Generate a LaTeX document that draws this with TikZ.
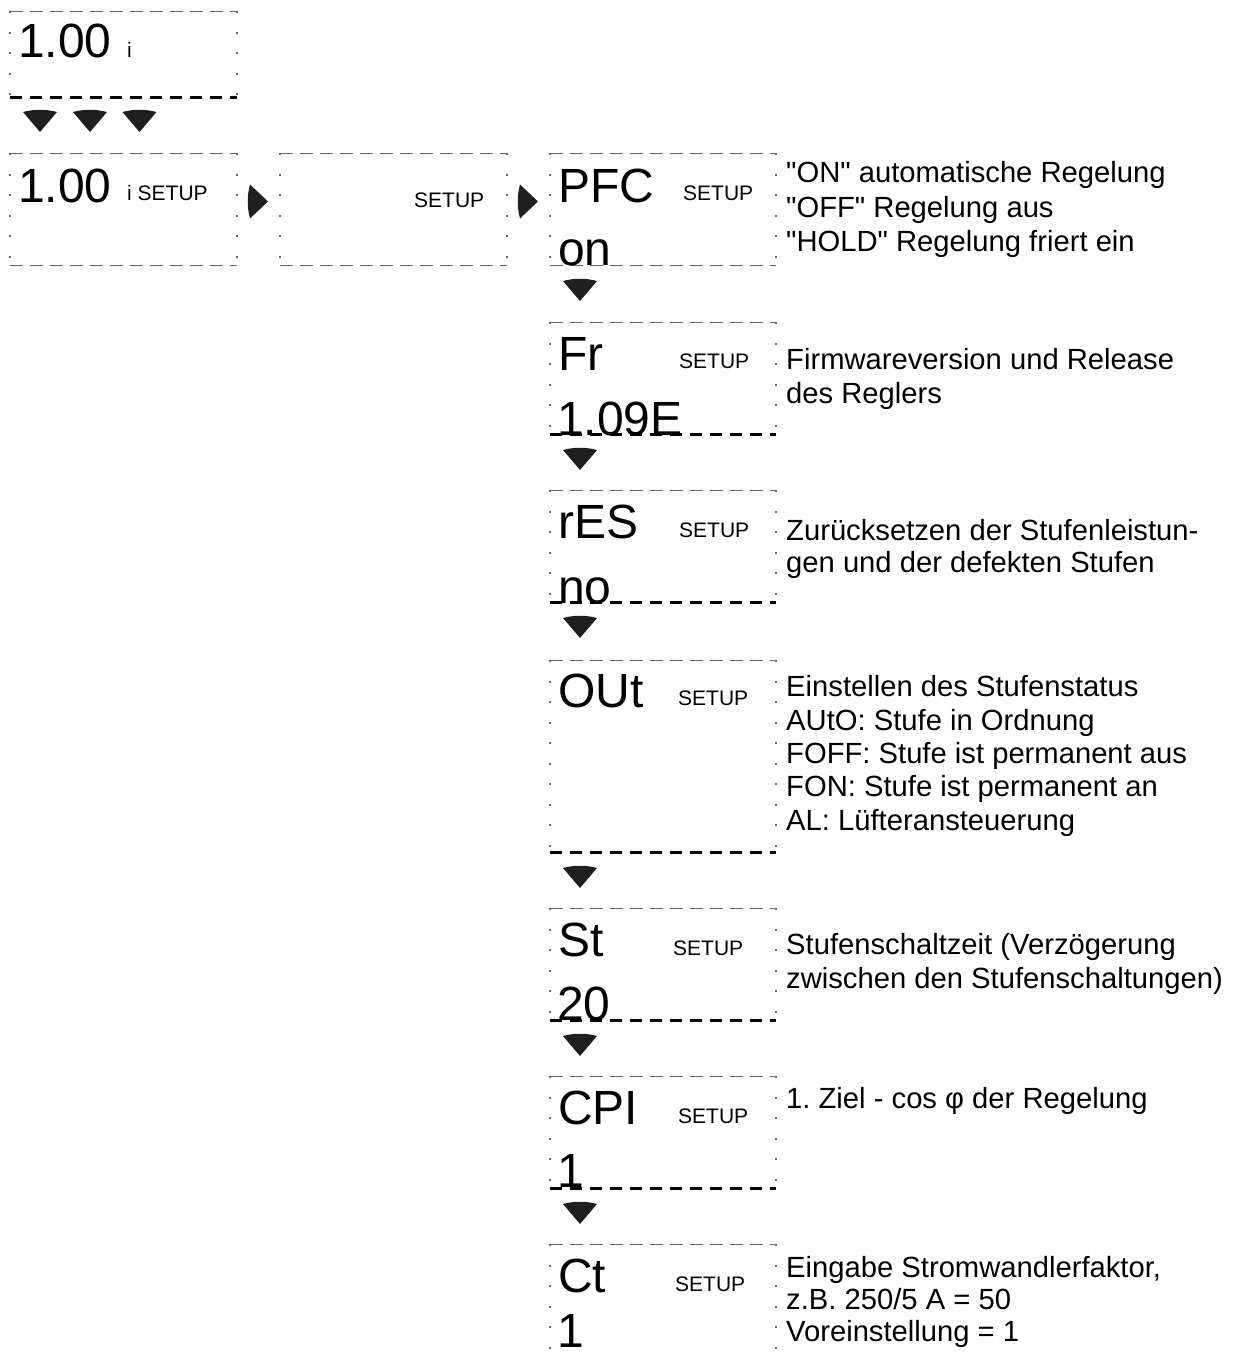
\documentclass[tikz,border=0pt]{standalone}
\usepackage{fontspec}
\setmainfont{Liberation Sans}[Ligatures=TeXOff]
\tikzset{
  topline/.style={draw=black!60, line width=1pt, dash pattern=on 13pt off 7pt},
  sideline/.style={draw=black!60, line width=1.6pt, dash pattern=on 2pt off 18.5pt},
  thickline/.style={draw=black, line width=3pt, dash pattern=on 12pt off 8pt},
  tri/.style={fill=black!88},
  big/.style={anchor=base west, inner sep=0pt, font=\fontsize{48}{48}\selectfont},
  small/.style={anchor=base west, inner sep=0pt, font=\fontsize{21}{21}\selectfont},
  desc/.style={anchor=base west, inner sep=0pt, font=\fontsize{29.2}{34}\selectfont},
}
\newcommand\lcdbox[5]{%
  \draw[topline] (#1,#2) -- (#3,#2);
  \draw[sideline] (#1,#2) -- (#1,#4);
  \draw[sideline] (#3,#2) -- (#3,#4);
  \draw[#5] (#1,#4) -- (#3,#4);
}
\newcommand\downtri[2]{%
  \fill[tri] ({#1-17},#2) .. controls ({#1-6},{#2-3}) and ({#1+6},{#2-3}) .. ({#1+17},#2) -- (#1,{#2+20}) -- cycle;
}
\newcommand\righttri[2]{%
  \fill[tri] (#1,{#2-17}) .. controls ({#1-3},{#2-6}) and ({#1-3},{#2+6}) .. (#1,{#2+17}) -- ({#1+18},#2) -- cycle;
}
\begin{document}
\frenchspacing
\begin{tikzpicture}[x=1pt,y=-1pt]
\useasboundingbox[fill=white] (0,0) rectangle (1233,1357);

% top box
\lcdbox{10}{11}{237}{97}{thickline}
\node[big] (t1) at (18,57) {1.00};
\node[small] (t1i) at (127,57) {i};
\downtri{40}{112}
\downtri{90}{112}
\downtri{139.5}{112}

% row 2
\lcdbox{10}{153}{237}{265}{topline}
\node[big] (a1) at (18,202) {1.00};
\node[small] (a2) at (127,200) {i SETUP};
\righttri{250}{201.5}
\lcdbox{280}{153}{507}{265}{topline}
\node[small] (b1) at (414,207) {SETUP};
\righttri{520}{201.5}

% PFC
\lcdbox{550}{153}{776}{265}{topline}
\node[big] (p1) at (558,202) {PFC};
\node[small] (p2) at (683,200) {SETUP};
\node[big] (p3) at (558,265) {on};
\node[desc] (pd1) at (786,182) {"ON" automatische Regelung};
\node[desc] (pd2) at (786,217) {"OFF" Regelung aus};
\node[desc] (pd3) at (786,251) {"HOLD" Regelung friert ein};
\downtri{580}{281}

% Fr
\lcdbox{550}{322}{776}{434}{thickline}
\node[big] (f1) at (558,370) {Fr};
\node[small] (f2) at (679,368) {SETUP};
\node[big] (f3) at (557,435) {1.09E};
\node[desc] (fd1) at (786,369) {Firmwareversion und Release};
\node[desc] (fd2) at (786,403) {des Reglers};
\downtri{580}{450}

% rES
\lcdbox{550}{490}{776}{602}{thickline}
\node[big] (r1) at (558,538) {rES};
\node[small] (r2) at (679,537) {SETUP};
\node[big] (r3) at (558,603) {no};
\node[desc] (rd1) at (786,540) {Zurücksetzen der Stufenleistun-};
\node[desc] (rd2) at (786,572) {gen und der defekten Stufen};
\downtri{580}{618}

% OUt
\lcdbox{550}{660}{776}{852}{thickline}
\node[big] (o1) at (558,707) {OUt};
\node[small] (o2) at (678,705) {SETUP};
\node[desc] (od1) at (786,696) {Einstellen des Stufenstatus};
\node[desc] (od2) at (786,730) {AUtO: Stufe in Ordnung};
\node[desc] (od3) at (786,763) {FOFF: Stufe ist permanent aus};
\node[desc] (od4) at (786,796) {FON: Stufe ist permanent an};
\node[desc] (od5) at (786,830) {AL: Lüfteransteuerung};
\downtri{580}{868}

% St
\lcdbox{550}{908}{776}{1020}{thickline}
\node[big] (s1) at (558,956) {St};
\node[small] (s2) at (673,955) {SETUP};
\node[big] (s3) at (557,1020) {20};
\node[desc] (sd1) at (786,954) {Stufenschaltzeit (Verzögerung};
\node[desc] (sd2) at (786,988) {zwischen den Stufenschaltungen)};
\downtri{580}{1036}

% CPI
\lcdbox{550}{1076}{776}{1188}{thickline}
\node[big] (c1) at (558,1124) {CPI};
\node[small] (c2) at (678,1123) {SETUP};
\node[big] (c3) at (557,1187) {1};
\node[desc] (cd1) at (786,1108) {1. Ziel - cos φ der Regelung};
\downtri{580}{1204}

% Ct
\lcdbox{550}{1244}{776}{1360}{topline}
\node[big] (k1) at (558,1292) {Ct};
\node[small] (k2) at (675,1291) {SETUP};
\node[big] (k3) at (557,1347) {1};
\node[desc] (kd1) at (786,1277) {Eingabe Stromwandlerfaktor,};
\node[desc] (kd2) at (786,1309) {z.B. 250/5 A = 50};
\node[desc] (kd3) at (786,1341) {Voreinstellung = 1};
\end{tikzpicture}
\end{document}
